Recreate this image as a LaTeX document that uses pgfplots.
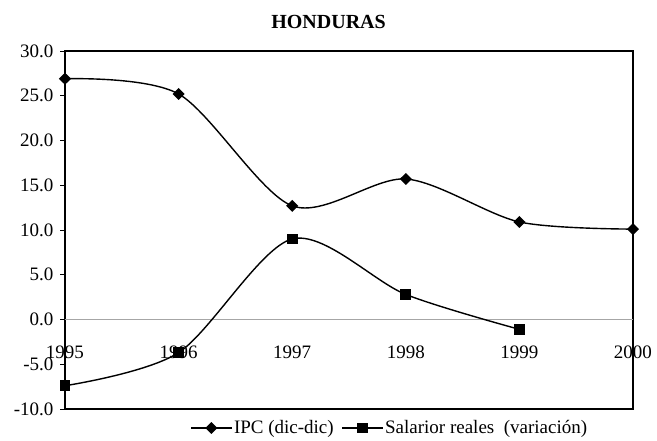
\documentclass[border=0pt]{standalone}
\usepackage{pgfplots}
\pgfplotsset{compat=1.18}
\usepackage{fontspec}
\setmainfont{Liberation Serif}
\begin{document}
\begin{tikzpicture}[x=1pt,y=1pt]
\useasboundingbox (-65,-31) rectangle (592,409);
\begin{axis}[
  at={(0,0)}, anchor=south west,
  scale only axis, width=568pt, height=358pt,
  xmin=1995, xmax=2000, ymin=-10, ymax=30,
  xtick={1995,1996,1997,1998,1999,2000},
  xticklabels={1995,1996,1997,1998,1999,2000},
  ytick={-10,-5,0,5,10,15,20,25,30},
  /pgf/number format/fixed, /pgf/number format/fixed zerofill, /pgf/number format/precision=1,
  /pgf/number format/assume math mode=true,
  tick label style={font=\fontsize{19}{22}\selectfont},
  xticklabel style={anchor=center, yshift=62pt},
  yticklabel style={xshift=-3pt},
  x tick style={draw=none},
  tick align=outside, major tick length=5pt,
  ytick pos=left,
  axis line style={line width=1.3pt},
  tick style={black, line width=0.8pt},
  extra y ticks={0}, extra y tick labels={},
  extra y tick style={grid=major, major grid style={gray!70, line width=0.8pt}, tick style={draw=none}},
  clip=false,
  title={\bfseries\fontsize{20}{22}\selectfont HONDURAS},
  title style={at={(0.464,1)}, anchor=south, yshift=13pt},
  legend columns=2,
  legend style={at={(0.572,0)}, anchor=center, yshift=-19pt, draw=none, fill=none,
    font=\fontsize{19}{22}\selectfont,
    /tikz/every even column/.append style={column sep=6pt}},
  legend image code/.code={\draw[#1] (0pt,0pt) -- (40pt,0pt); \draw[#1, mark repeat=2, mark phase=2] plot coordinates {(0pt,0pt) (20pt,0pt) (40pt,0pt)};},
]
\addplot[black, line width=1.4pt, smooth, tension=0.5, mark=diamond*, mark size=5pt, mark options={solid, xscale=1.35}]
  coordinates {(1995,26.9) (1996,25.2) (1997,12.7) (1998,15.7) (1999,10.9) (2000,10.1)};
\addlegendentry{IPC (dic-dic)}
\addplot[black, line width=1.4pt, smooth, tension=0.5, mark=square*, mark size=4.7pt, mark options={solid}]
  coordinates {(1995,-7.4) (1996,-3.7) (1997,9.0) (1998,2.8) (1999,-1.1)};
\addlegendentry{Salarior reales\ \ (variación)}
\end{axis}
\end{tikzpicture}
\end{document}
